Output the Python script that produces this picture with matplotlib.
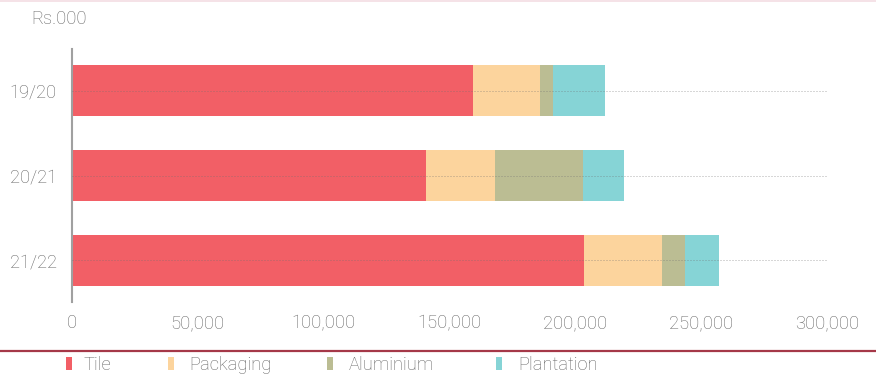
import matplotlib
matplotlib.use("Agg")
import matplotlib.pyplot as plt
from matplotlib.patches import Rectangle
from matplotlib.lines import Line2D

# Revenue by segment (Rs.000)
years = ["19/20", "20/21", "21/22"]
segments = ["Tile", "Packaging", "Aluminium", "Plantation"]
tile = [159400, 140700, 203400]
packaging = [26600, 27400, 31100]
aluminium = [5300, 35100, 8900]
plantation = [20500, 16200, 13800]
xticks = [0, 50000, 100000, 150000, 200000, 250000, 300000]

colors = ["#F25F66", "#FCD49D", "#BBBD93", "#86D4D6"]
text_color = "#666666"
fs = 13.2

plt.rcParams["font.family"] = ["Roboto", "DejaVu Sans"]
plt.rcParams["font.weight"] = "light"

fig = plt.figure(figsize=(8.76, 3.76), dpi=100)
ax = fig.add_axes([72 / 876, 1 - 302 / 376, 755 / 876, 253 / 376])

series = [tile, packaging, aluminium, plantation]
left = [0] * len(years)
ypos = list(range(len(years)))
for vals, col, name in zip(series, colors, segments):
    ax.barh(ypos, vals, left=left, height=0.6, color=col, edgecolor="none", label=name, zorder=2)
    left = [a + b for a, b in zip(left, vals)]

# dotted guide lines through each category
for y in ypos:
    ax.plot([0, xticks[-1]], [y, y], linestyle=(0, (1, 2)), color="#707070",
            linewidth=0.72, alpha=0.55, zorder=3)

ax.set_xlim(0, xticks[-1])
ax.set_ylim(len(years) - 0.51, -0.49)
ax.set_yticks(ypos)
ax.set_yticklabels(years)
ax.set_xticks(xticks)
ax.set_xticklabels([f"{v:,}" for v in xticks])
ax.tick_params(axis="both", length=0, colors=text_color, labelsize=fs)
ax.tick_params(axis="x", pad=9)
ax.tick_params(axis="y", pad=11)
for s in ["top", "right", "bottom"]:
    ax.spines[s].set_visible(False)
ax.spines["left"].set_color("#a0a0a0")
ax.spines["left"].set_linewidth(1.5)

fig.text(31 / 876, 1 - 19 / 376, "Rs.000", color=text_color, fontsize=fs,
         ha="left", va="center")

# frame lines
fig.add_artist(Line2D([0, 1], [1 - 0.5 / 376, 1 - 0.5 / 376], color="#f3dde3",
                      linewidth=1.2, transform=fig.transFigure))
fig.add_artist(Line2D([0, 1], [1 - 351 / 376, 1 - 351 / 376], color="#a53848",
                      linewidth=1.6, transform=fig.transFigure))

# legend
legend_sq = [66, 168, 327, 496]
legend_tx = [83, 189, 349, 518]
for xs, xt, name, col in zip(legend_sq, legend_tx, segments, colors):
    fig.add_artist(Rectangle((xs / 876, 1 - 370 / 376), 6 / 876, 13 / 376,
                             facecolor=col, edgecolor="none", transform=fig.transFigure))
    fig.text(xt / 876, 1 - 365 / 376, name, color=text_color, fontsize=fs,
             ha="left", va="center")

fig.savefig("out.png", dpi=100)
